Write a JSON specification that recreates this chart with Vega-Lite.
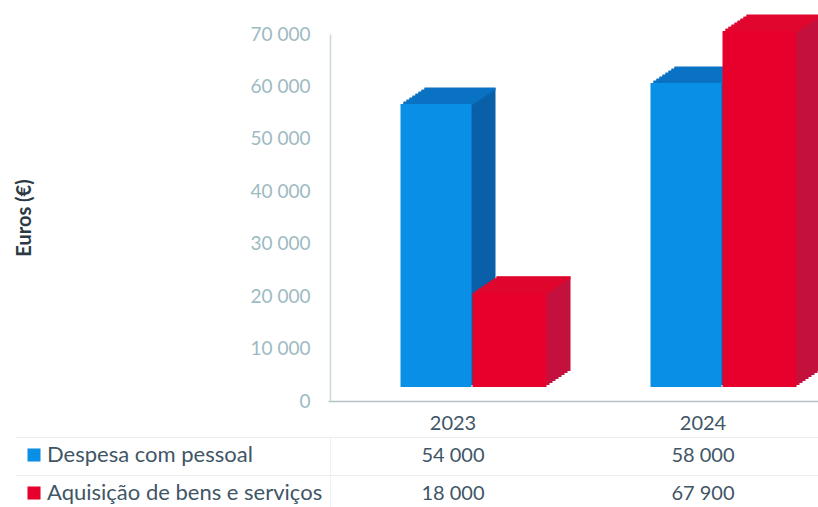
{"$schema":"https://vega.github.io/schema/vega-lite/v6.json","autosize":{"type":"none"},"padding":{"left":330,"top":34,"right":488,"bottom":473},"background":"white","bounds":"flush","spacing":36,"config":{"view":{"stroke":null},"font":"Lato"},"datasets":{"d":[{"ano":"2023","serie":"Despesa com pessoal","valor":54000,"rotulo":"54 000"},{"ano":"2023","serie":"Aquisição de bens e serviços","valor":18000,"rotulo":"18 000"},{"ano":"2024","serie":"Despesa com pessoal","valor":58000,"rotulo":"58 000"},{"ano":"2024","serie":"Aquisição de bens e serviços","valor":67900,"rotulo":"67 900"}]},"vconcat":[{"width":488,"height":367,"data":{"name":"d"},"encoding":{"x":{"field":"ano","type":"nominal","title":null,"scale":{"domain":["2023","2024"],"range":[-2,498],"paddingInner":0.428,"paddingOuter":0.214},"axis":{"labelAngle":0,"labelFontSize":20,"labelColor":"#3f5666","labelPadding":12,"ticks":false,"domainColor":"#b4c2c6","domainWidth":1.5}},"y":{"field":"valor","type":"quantitative","title":"Euros (€)","stack":null,"scale":{"domain":[0,70000],"nice":false},"axis":{"values":[0,10000,20000,30000,40000,50000,60000,70000],"labelExpr":"replace(format(datum.value,','),',',' ')","labelFontSize":19,"labelColor":"#9dbac2","labelPadding":20,"ticks":false,"grid":false,"domainColor":"#c9d8d8","domainWidth":1.5,"titleFontSize":20,"titleFontWeight":"bold","titleColor":"#2b3a44","titlePadding":216}},"y2":{"datum":0}},"layer":[{"transform":[{"filter":{"field":"serie","equal":"Despesa com pessoal"}}],"layer":[{"mark":{"type":"bar","width":71,"color":"#0a60a8","xOffset":7,"yOffset":-30,"y2Offset":-30}},{"mark":{"type":"bar","width":71,"color":"#0a60a8","xOffset":4,"yOffset":-28,"y2Offset":-28}},{"mark":{"type":"bar","width":71,"color":"#0a60a8","xOffset":1,"yOffset":-26,"y2Offset":-26}},{"mark":{"type":"bar","width":71,"color":"#0a60a8","xOffset":-2,"yOffset":-24,"y2Offset":-24}},{"mark":{"type":"bar","width":71,"color":"#0a60a8","xOffset":-5,"yOffset":-22,"y2Offset":-22}},{"mark":{"type":"bar","width":71,"color":"#0a60a8","xOffset":-8,"yOffset":-20,"y2Offset":-20}},{"mark":{"type":"bar","width":71,"color":"#0a60a8","xOffset":-11,"yOffset":-18,"y2Offset":-18}},{"mark":{"type":"bar","width":71,"color":"#0a60a8","xOffset":-14,"yOffset":-16,"y2Offset":-16}},{"mark":{"type":"tick","color":"#0a72c2","opacity":1,"size":71,"thickness":3,"xOffset":7,"yOffset":-29}},{"mark":{"type":"tick","color":"#0a72c2","opacity":1,"size":71,"thickness":3,"xOffset":4,"yOffset":-27}},{"mark":{"type":"tick","color":"#0a72c2","opacity":1,"size":71,"thickness":3,"xOffset":1,"yOffset":-25}},{"mark":{"type":"tick","color":"#0a72c2","opacity":1,"size":71,"thickness":3,"xOffset":-2,"yOffset":-23}},{"mark":{"type":"tick","color":"#0a72c2","opacity":1,"size":71,"thickness":3,"xOffset":-5,"yOffset":-21}},{"mark":{"type":"tick","color":"#0a72c2","opacity":1,"size":71,"thickness":3,"xOffset":-8,"yOffset":-19}},{"mark":{"type":"tick","color":"#0a72c2","opacity":1,"size":71,"thickness":3,"xOffset":-11,"yOffset":-17}},{"mark":{"type":"tick","color":"#0a72c2","opacity":1,"size":71,"thickness":3,"xOffset":-14,"yOffset":-15}},{"mark":{"type":"bar","width":71,"xOffset":-17,"yOffset":-14,"y2Offset":-14},"encoding":{"color":{"field":"serie","type":"nominal","scale":{"domain":["Despesa com pessoal","Aquisição de bens e serviços"],"range":["#0a8fe6","#e8002c"]},"legend":{"title":null,"orient":"none","legendX":-307,"legendY":410,"symbolType":"square","symbolSize":170,"symbolStrokeWidth":0,"labelFontSize":22,"labelColor":"#3f5666","rowPadding":16,"labelOffset":2,"labelLimit":320}}}}]},{"transform":[{"filter":{"field":"serie","equal":"Aquisição de bens e serviços"}}],"layer":[{"mark":{"type":"bar","width":74,"color":"#c4103c","xOffset":80.5,"yOffset":-30,"y2Offset":-30}},{"mark":{"type":"bar","width":74,"color":"#c4103c","xOffset":77.5,"yOffset":-28,"y2Offset":-28}},{"mark":{"type":"bar","width":74,"color":"#c4103c","xOffset":74.5,"yOffset":-26,"y2Offset":-26}},{"mark":{"type":"bar","width":74,"color":"#c4103c","xOffset":71.5,"yOffset":-24,"y2Offset":-24}},{"mark":{"type":"bar","width":74,"color":"#c4103c","xOffset":68.5,"yOffset":-22,"y2Offset":-22}},{"mark":{"type":"bar","width":74,"color":"#c4103c","xOffset":65.5,"yOffset":-20,"y2Offset":-20}},{"mark":{"type":"bar","width":74,"color":"#c4103c","xOffset":62.5,"yOffset":-18,"y2Offset":-18}},{"mark":{"type":"bar","width":74,"color":"#c4103c","xOffset":59.5,"yOffset":-16,"y2Offset":-16}},{"mark":{"type":"tick","color":"#e0062e","opacity":1,"size":74,"thickness":3,"xOffset":80.5,"yOffset":-29}},{"mark":{"type":"tick","color":"#e0062e","opacity":1,"size":74,"thickness":3,"xOffset":77.5,"yOffset":-27}},{"mark":{"type":"tick","color":"#e0062e","opacity":1,"size":74,"thickness":3,"xOffset":74.5,"yOffset":-25}},{"mark":{"type":"tick","color":"#e0062e","opacity":1,"size":74,"thickness":3,"xOffset":71.5,"yOffset":-23}},{"mark":{"type":"tick","color":"#e0062e","opacity":1,"size":74,"thickness":3,"xOffset":68.5,"yOffset":-21}},{"mark":{"type":"tick","color":"#e0062e","opacity":1,"size":74,"thickness":3,"xOffset":65.5,"yOffset":-19}},{"mark":{"type":"tick","color":"#e0062e","opacity":1,"size":74,"thickness":3,"xOffset":62.5,"yOffset":-17}},{"mark":{"type":"tick","color":"#e0062e","opacity":1,"size":74,"thickness":3,"xOffset":59.5,"yOffset":-15}},{"mark":{"type":"bar","width":74,"xOffset":56.5,"yOffset":-14,"y2Offset":-14},"encoding":{"color":{"field":"serie","type":"nominal","scale":{"domain":["Despesa com pessoal","Aquisição de bens e serviços"],"range":["#0a8fe6","#e8002c"]}}}}]}]},{"width":488,"height":70,"data":{"name":"d"},"mark":{"type":"text","fontSize":20,"color":"#3f5666"},"encoding":{"x":{"field":"ano","type":"nominal","scale":{"domain":["2023","2024"],"range":[-2,498],"paddingInner":0.428,"paddingOuter":0.214},"axis":null},"y":{"field":"serie","type":"nominal","title":null,"scale":{"type":"band","domain":["Despesa com pessoal","Aquisição de bens e serviços"],"range":[0,76]},"axis":{"labels":false,"bandPosition":0,"tickSize":315,"tickColor":"#e9eeee","grid":true,"gridColor":"#e9eeee","domain":true,"domainColor":"#eef2f2"}},"text":{"field":"rotulo"}}}]}
